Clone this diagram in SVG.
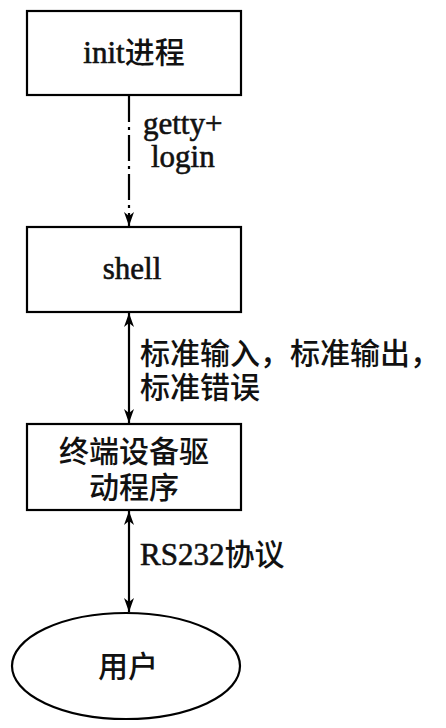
<svg xmlns="http://www.w3.org/2000/svg" width="446" height="728" viewBox="0 0 446 728">
<defs>
<style>
.box{fill:#fff;stroke:#000;stroke-width:2.2}
.t{font-family:"Liberation Serif","Noto Sans CJK SC",serif;font-size:31px;fill:#111;stroke:#111;stroke-width:0.6}
.c{font-family:"Noto Sans CJK SC",sans-serif;font-size:30px;font-weight:500;fill:#111;stroke:none}
.ln{stroke:#000;stroke-width:2.2;fill:none}
</style>
<marker id="ah" viewBox="0 0 14 10" refX="14" refY="5" markerWidth="14" markerHeight="10" markerUnits="userSpaceOnUse" orient="auto-start-reverse">
<path d="M0,0 L14,5 L0,10 L4,5 Z" fill="#000"/>
</marker>
</defs>
<rect width="446" height="728" fill="#fff"/>
<g id="connectors">
<line class="ln" x1="129" y1="96" x2="129" y2="226" stroke-dasharray="26 5 3 5" marker-end="url(#ah)"/>
<line class="ln" x1="129" y1="313" x2="129" y2="423" marker-start="url(#ah)" marker-end="url(#ah)"/>
<line class="ln" x1="129" y1="511" x2="129" y2="612" marker-start="url(#ah)" marker-end="url(#ah)"/>
<text class="t"><tspan x="143" y="134">getty+</tspan><tspan x="151" y="167">login</tspan></text>
<text class="c"><tspan x="140" y="364">标准输入，标准输出，</tspan><tspan x="140" y="398">标准错误</tspan></text>
<text class="t" x="140" y="565">RS232<tspan class="c">协议</tspan></text>
</g>
<g id="init">
<rect class="box" x="27" y="11" width="214" height="84"/>
<text class="t" x="134" y="63" text-anchor="middle">init<tspan class="c">进程</tspan></text>
</g>
<g id="shell">
<rect class="box" x="27" y="227" width="214" height="85"/>
<text class="t" x="132" y="279" text-anchor="middle">shell</text>
</g>
<g id="driver">
<rect class="box" x="27" y="424" width="214" height="86"/>
<text class="c" text-anchor="middle"><tspan x="134" y="462">终端设备驱</tspan><tspan x="134" y="498">动程序</tspan></text>
</g>
<g id="user">
<ellipse class="box" cx="126" cy="666" rx="114" ry="53"/>
<text class="c" x="128" y="677" text-anchor="middle">用户</text>
</g>
</svg>
